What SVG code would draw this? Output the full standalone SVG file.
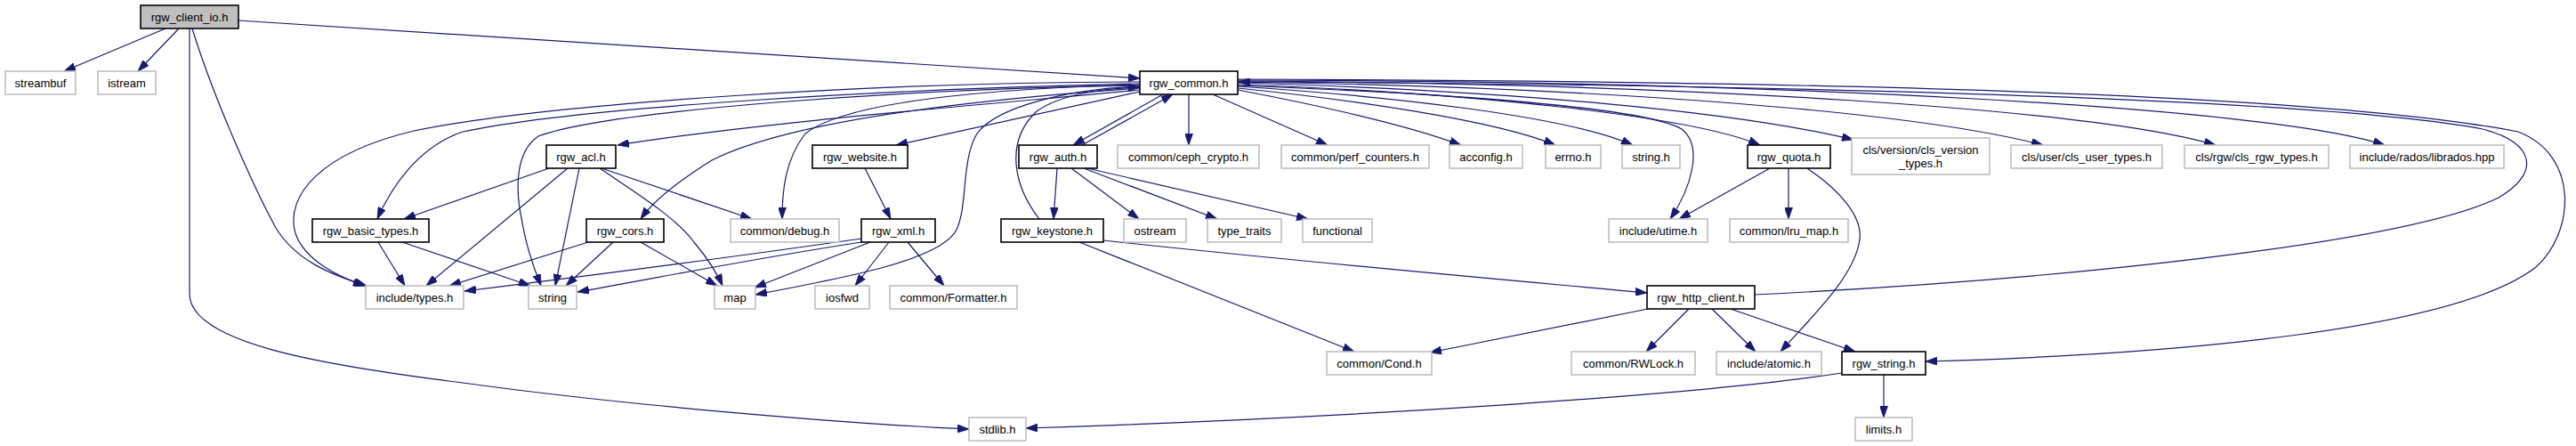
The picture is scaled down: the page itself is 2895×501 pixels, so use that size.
<svg xmlns="http://www.w3.org/2000/svg" width="2895" height="501" viewBox="0 0 2895 501">
<style>
.bg{fill:#ffffff}
.e{fill:none;stroke:#191970;stroke-width:1.2;marker-end:url(#ah)}
.doc rect{fill:#ffffff;stroke:#000000;stroke-width:1.6}
.ext rect{fill:#ffffff;stroke:#bfbfbf;stroke-width:1.6}
.main rect{fill:#bfbfbf;stroke:#000000;stroke-width:1.6}
text{font-family:"Liberation Sans",Arial,Helvetica,sans-serif;font-size:13px;fill:#000000;text-anchor:middle}
</style>
<defs>
<marker id="ah" viewBox="0 0 13 9" refX="13" refY="4.5" markerUnits="userSpaceOnUse" markerWidth="13" markerHeight="9" orient="auto">
<path d="M0,0 L13,4.5 L0,9 z" fill="#191970" stroke="#191970" stroke-width="0.8"/>
</marker>
</defs>
<rect class="bg" x="0" y="0" width="2895" height="501"/>
<g id="edges">
<path class="e" d="M186,32 L72,80"/>
<path class="e" d="M201,32 L155,80"/>
<path class="e" d="M268,23 L1281,88"/>
<path class="e" d="M216,32 C240,110 285,210 310,256 C332,292 370,308 412,321"/>
<path class="e" d="M213,32 L213,330 C213,385 360,410 520,430 C700,455 950,476 1089,482"/>
<path class="e" d="M1281,101 C1100,118 850,138 694,163"/>
<path class="e" d="M1281,94 C1000,100 650,120 520,148 C470,165 440,210 424,246"/>
<path class="e" d="M1281,92 C1000,92 620,115 465,147 C360,172 320,220 332,262 C342,292 380,311 410,321"/>
<path class="e" d="M1281,96 C1000,100 680,125 605,153 C580,170 578,210 587,250 C592,282 602,306 608,321"/>
<path class="e" d="M1281,99 C1050,115 880,140 800,180 C760,205 735,225 720,246"/>
<path class="e" d="M1281,95 C1100,100 950,115 905,150 C882,180 879,215 879,246"/>
<path class="e" d="M1281,97 C1200,100 1120,120 1098,150 C1080,180 1088,230 1075,258 C1058,292 950,312 849,331"/>
<path class="e" d="M1281,103 L1007,163"/>
<path class="e" d="M1307,106 L1206,163"/>
<path class="e" d="M1216,163 L1318,106"/>
<path class="e" d="M1336,106 L1336,163"/>
<path class="e" d="M1363,106 L1492,163"/>
<path class="e" d="M1391,101 C1480,118 1580,140 1642,163"/>
<path class="e" d="M1391,99 C1520,112 1680,135 1748,163"/>
<path class="e" d="M1391,97 C1560,108 1760,130 1835,163"/>
<path class="e" d="M1391,96 C1650,106 1850,122 1890,145 C1915,165 1900,212 1877,246"/>
<path class="e" d="M1391,95 C1650,104 1900,130 1978,163"/>
<path class="e" d="M1391,93 C1700,102 1950,125 2083,157"/>
<path class="e" d="M1391,92 C1800,98 2150,125 2296,163"/>
<path class="e" d="M1391,91 C1900,94 2350,122 2490,163"/>
<path class="e" d="M1391,90 C2000,91 2550,120 2680,163"/>
<path class="e" d="M1391,89 C2000,91 2600,103 2830,148 C2900,175 2893,262 2850,300 C2760,370 2450,398 2164,406"/>
<path class="e" d="M1972,331 C2300,315 2700,275 2808,222 C2855,195 2850,160 2790,145 C2600,108 1900,94 1392,92"/>
<path class="e" d="M1188,189 L1184,246"/>
<path class="e" d="M1204,189 L1280,246"/>
<path class="e" d="M1218,189 L1368,246"/>
<path class="e" d="M1222,189 L1470,246"/>
<path class="e" d="M1168,246 C1140,210 1128,160 1165,125 C1192,106 1240,99 1281,98"/>
<path class="e" d="M1240,270 C1450,293 1700,315 1851,329"/>
<path class="e" d="M1213,272 L1522,395"/>
<path class="e" d="M1852,347 L1607,396"/>
<path class="e" d="M1898,347 L1850,395"/>
<path class="e" d="M1924,347 L1973,395"/>
<path class="e" d="M1945,347 L2085,395"/>
<path class="e" d="M1989,189 L1887,246"/>
<path class="e" d="M2010,189 L2010,246"/>
<path class="e" d="M2031,189 C2070,215 2093,245 2090,268 C2086,310 2032,360 2001,395"/>
<path class="e" d="M2070,419 C1900,445 1500,470 1153,481"/>
<path class="e" d="M2117,421 L2117,469"/>
<path class="e" d="M617,189 L454,246"/>
<path class="e" d="M638,189 L479,321"/>
<path class="e" d="M651,189 L624,321"/>
<path class="e" d="M674,189 C720,220 760,245 780,272 C795,290 805,305 812,321"/>
<path class="e" d="M676,189 L845,246"/>
<path class="e" d="M425,272 L455,321"/>
<path class="e" d="M452,272 L596,321"/>
<path class="e" d="M661,272 L505,321"/>
<path class="e" d="M689,272 L636,321"/>
<path class="e" d="M720,272 L806,321"/>
<path class="e" d="M972,189 L1001,246"/>
<path class="e" d="M968,268 C850,285 700,305 522,327"/>
<path class="e" d="M968,272 C850,290 750,310 649,328"/>
<path class="e" d="M978,272 L848,323"/>
<path class="e" d="M999,272 L961,321"/>
<path class="e" d="M1020,272 L1061,321"/>
</g>
<g id="n_rgw_client_io" class="main"><rect x="158" y="6" width="110" height="26"/><text x="213" y="23.5">rgw_client_io.h</text></g>
<g id="n_streambuf" class="ext"><rect x="6" y="80" width="79" height="26"/><text x="45.5" y="97.5">streambuf</text></g>
<g id="n_istream" class="ext"><rect x="110" y="80" width="65" height="26"/><text x="142.5" y="97.5">istream</text></g>
<g id="n_rgw_common" class="doc"><rect x="1281" y="80" width="110" height="26"/><text x="1336" y="97.5">rgw_common.h</text></g>
<g id="n_rgw_acl" class="doc"><rect x="614" y="163" width="78" height="26"/><text x="653" y="180.5">rgw_acl.h</text></g>
<g id="n_rgw_website" class="doc"><rect x="913" y="163" width="107" height="26"/><text x="966.5" y="180.5">rgw_website.h</text></g>
<g id="n_rgw_auth" class="doc"><rect x="1145" y="163" width="88" height="26"/><text x="1189" y="180.5">rgw_auth.h</text></g>
<g id="n_ceph_crypto" class="ext"><rect x="1256" y="163" width="159" height="26"/><text x="1335.5" y="180.5">common/ceph_crypto.h</text></g>
<g id="n_perf_counters" class="ext"><rect x="1440" y="163" width="166" height="26"/><text x="1523" y="180.5">common/perf_counters.h</text></g>
<g id="n_acconfig" class="ext"><rect x="1629" y="163" width="82" height="26"/><text x="1670" y="180.5">acconfig.h</text></g>
<g id="n_errno" class="ext"><rect x="1737" y="163" width="62" height="26"/><text x="1768" y="180.5">errno.h</text></g>
<g id="n_string_h" class="ext"><rect x="1823" y="163" width="65" height="26"/><text x="1855.5" y="180.5">string.h</text></g>
<g id="n_rgw_quota" class="doc"><rect x="1964" y="163" width="93" height="26"/><text x="2010.5" y="180.5">rgw_quota.h</text></g>
<g id="n_cls_version" class="ext"><rect x="2081" y="155" width="155" height="41"/><text x="2158.5" y="172.5">cls/version/cls_version</text><text x="2158.5" y="187.5">_types.h</text></g>
<g id="n_cls_user" class="ext"><rect x="2260" y="163" width="170" height="26"/><text x="2345" y="180.5">cls/user/cls_user_types.h</text></g>
<g id="n_cls_rgw" class="ext"><rect x="2455" y="163" width="162" height="26"/><text x="2536" y="180.5">cls/rgw/cls_rgw_types.h</text></g>
<g id="n_librados" class="ext"><rect x="2641" y="163" width="173" height="26"/><text x="2727.5" y="180.5">include/rados/librados.hpp</text></g>
<g id="n_rgw_basic_types" class="doc"><rect x="351" y="246" width="131" height="26"/><text x="416.5" y="263.5">rgw_basic_types.h</text></g>
<g id="n_rgw_cors" class="doc"><rect x="659" y="246" width="87" height="26"/><text x="702.5" y="263.5">rgw_cors.h</text></g>
<g id="n_debug" class="ext"><rect x="821" y="246" width="122" height="26"/><text x="882" y="263.5">common/debug.h</text></g>
<g id="n_rgw_xml" class="doc"><rect x="968" y="246" width="83" height="26"/><text x="1009.5" y="263.5">rgw_xml.h</text></g>
<g id="n_rgw_keystone" class="doc"><rect x="1125" y="246" width="115" height="26"/><text x="1182.5" y="263.5">rgw_keystone.h</text></g>
<g id="n_ostream" class="ext"><rect x="1263" y="246" width="70" height="26"/><text x="1298" y="263.5">ostream</text></g>
<g id="n_type_traits" class="ext"><rect x="1357" y="246" width="83" height="26"/><text x="1398.5" y="263.5">type_traits</text></g>
<g id="n_functional" class="ext"><rect x="1464" y="246" width="78" height="26"/><text x="1503" y="263.5">functional</text></g>
<g id="n_utime" class="ext"><rect x="1808" y="246" width="111" height="26"/><text x="1863.5" y="263.5">include/utime.h</text></g>
<g id="n_lru_map" class="ext"><rect x="1944" y="246" width="133" height="26"/><text x="2010.5" y="263.5">common/lru_map.h</text></g>
<g id="n_types" class="ext"><rect x="411" y="321" width="110" height="26"/><text x="466" y="338.5">include/types.h</text></g>
<g id="n_string" class="ext"><rect x="594" y="321" width="54" height="26"/><text x="621" y="338.5">string</text></g>
<g id="n_map" class="ext"><rect x="803" y="321" width="46" height="26"/><text x="826" y="338.5">map</text></g>
<g id="n_iosfwd" class="ext"><rect x="916" y="321" width="61" height="26"/><text x="946.5" y="338.5">iosfwd</text></g>
<g id="n_formatter" class="ext"><rect x="1000" y="321" width="143" height="26"/><text x="1071.5" y="338.5">common/Formatter.h</text></g>
<g id="n_rgw_http_client" class="doc"><rect x="1851" y="321" width="121" height="26"/><text x="1911.5" y="338.5">rgw_http_client.h</text></g>
<g id="n_cond" class="ext"><rect x="1491" y="395" width="118" height="26"/><text x="1550" y="412.5">common/Cond.h</text></g>
<g id="n_rwlock" class="ext"><rect x="1766" y="395" width="139" height="26"/><text x="1835.5" y="412.5">common/RWLock.h</text></g>
<g id="n_atomic" class="ext"><rect x="1929" y="395" width="118" height="26"/><text x="1988" y="412.5">include/atomic.h</text></g>
<g id="n_rgw_string" class="doc"><rect x="2070" y="395" width="94" height="26"/><text x="2117" y="412.5">rgw_string.h</text></g>
<g id="n_stdlib" class="ext"><rect x="1089" y="469" width="64" height="26"/><text x="1121" y="486.5">stdlib.h</text></g>
<g id="n_limits" class="ext"><rect x="2085" y="469" width="64" height="26"/><text x="2117" y="486.5">limits.h</text></g>
</svg>
